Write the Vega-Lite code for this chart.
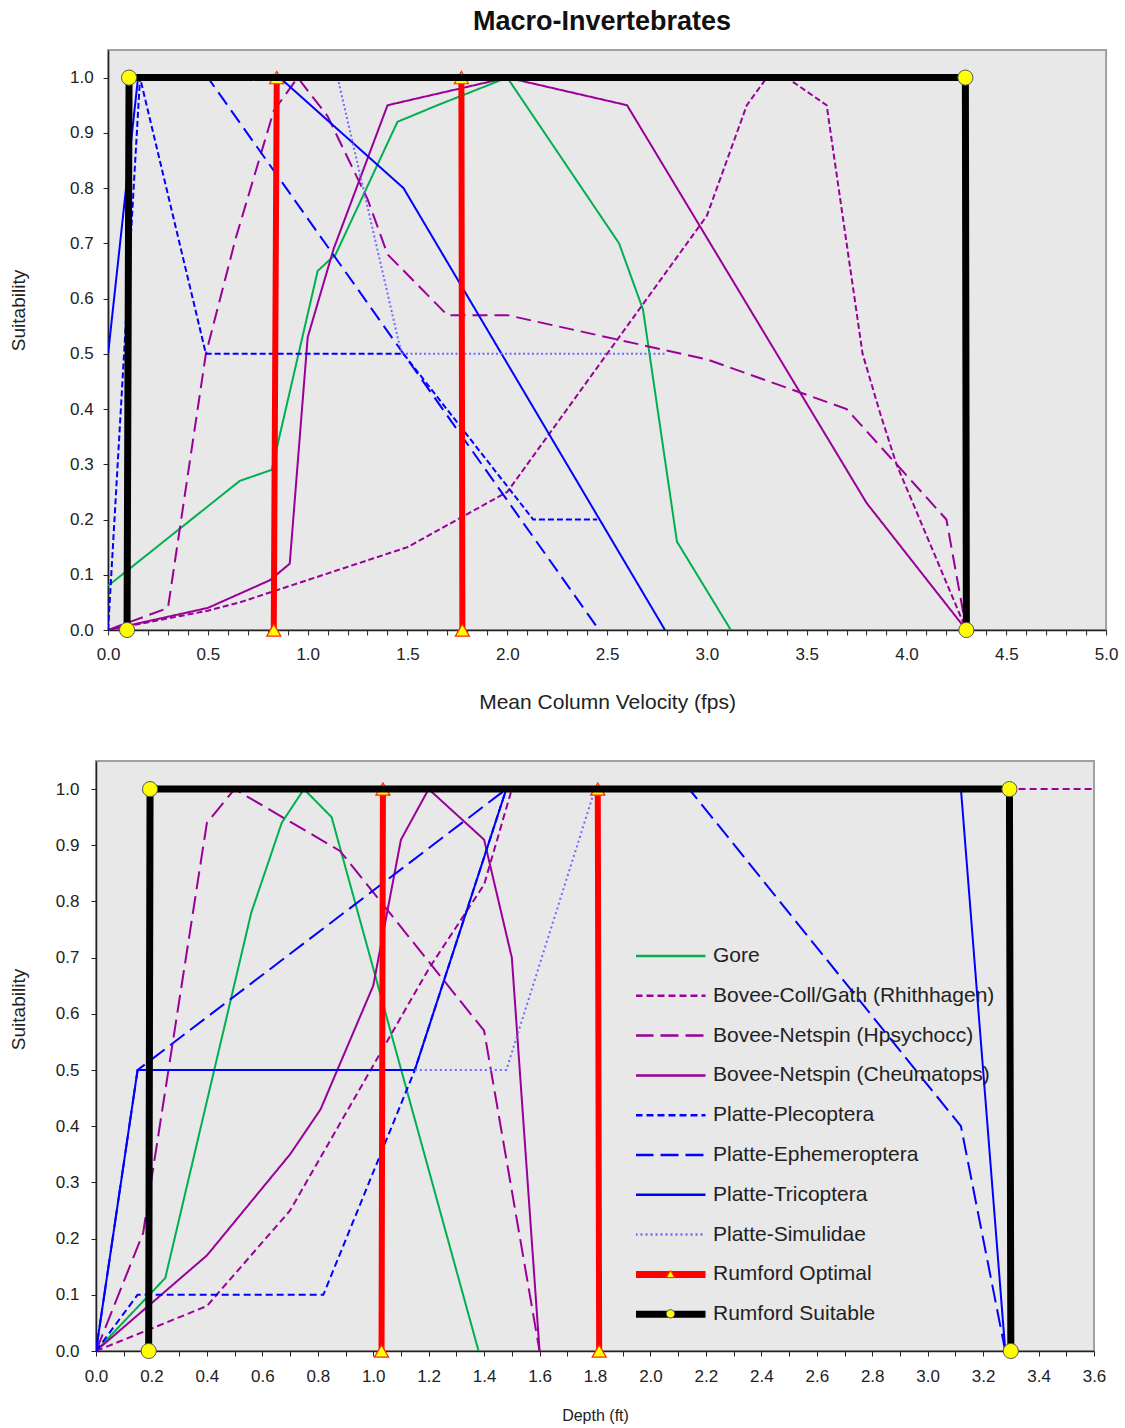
{
  "$schema": "https://vega.github.io/schema/vega-lite/v6.json",
  "padding": {"top": 7, "left": 8, "right": 5, "bottom": 5},
  "background": "#FFFFFF",
  "columns": 1,
  "center": true,
  "spacing": 47,
  "resolve": {
    "scale": {"color": "independent", "strokeDash": "independent", "shape": "independent", "stroke": "independent"},
    "legend": {"color": "independent", "strokeDash": "independent", "shape": "independent", "stroke": "independent"}
  },
  "concat": [
    {
      "width": 998,
      "height": 580,
      "title": {"text": "Macro-Invertebrates", "fontSize": 27, "fontWeight": "bold", "font": "Liberation Sans", "offset": -13, "baseline": "bottom", "dx": -5, "color": "#111111"},
      "data": {"values": [
        {"series": "Gore", "x": 0, "y": 0.08}, {"series": "Gore", "x": 0.66, "y": 0.27}, {"series": "Gore", "x": 0.82, "y": 0.29}, {"series": "Gore", "x": 1.05, "y": 0.65}, {"series": "Gore", "x": 1.14, "y": 0.68}, {"series": "Gore", "x": 1.45, "y": 0.92}, {"series": "Gore", "x": 1.65, "y": 0.95}, {"series": "Gore", "x": 2.0, "y": 1.0}, {"series": "Gore", "x": 2.56, "y": 0.7}, {"series": "Gore", "x": 2.68, "y": 0.58}, {"series": "Gore", "x": 2.85, "y": 0.16}, {"series": "Gore", "x": 3.12, "y": 0},
        {"series": "Bovee-Coll/Gath (Rhithhagen)", "x": 0, "y": 0}, {"series": "Bovee-Coll/Gath (Rhithhagen)", "x": 0.5, "y": 0.035}, {"series": "Bovee-Coll/Gath (Rhithhagen)", "x": 0.66, "y": 0.05}, {"series": "Bovee-Coll/Gath (Rhithhagen)", "x": 1.5, "y": 0.15}, {"series": "Bovee-Coll/Gath (Rhithhagen)", "x": 2.0, "y": 0.25}, {"series": "Bovee-Coll/Gath (Rhithhagen)", "x": 3.0, "y": 0.75}, {"series": "Bovee-Coll/Gath (Rhithhagen)", "x": 3.2, "y": 0.95}, {"series": "Bovee-Coll/Gath (Rhithhagen)", "x": 3.3, "y": 1.0}, {"series": "Bovee-Coll/Gath (Rhithhagen)", "x": 3.4, "y": 1.0}, {"series": "Bovee-Coll/Gath (Rhithhagen)", "x": 3.6, "y": 0.95}, {"series": "Bovee-Coll/Gath (Rhithhagen)", "x": 3.78, "y": 0.5}, {"series": "Bovee-Coll/Gath (Rhithhagen)", "x": 3.87, "y": 0.39}, {"series": "Bovee-Coll/Gath (Rhithhagen)", "x": 3.95, "y": 0.3}, {"series": "Bovee-Coll/Gath (Rhithhagen)", "x": 4.3, "y": 0},
        {"series": "Bovee-Netspin (Hpsychocc)", "x": 0, "y": 0}, {"series": "Bovee-Netspin (Hpsychocc)", "x": 0.3, "y": 0.04}, {"series": "Bovee-Netspin (Hpsychocc)", "x": 0.49, "y": 0.5}, {"series": "Bovee-Netspin (Hpsychocc)", "x": 0.64, "y": 0.71}, {"series": "Bovee-Netspin (Hpsychocc)", "x": 0.83, "y": 0.94}, {"series": "Bovee-Netspin (Hpsychocc)", "x": 0.95, "y": 1.0}, {"series": "Bovee-Netspin (Hpsychocc)", "x": 1.1, "y": 0.93}, {"series": "Bovee-Netspin (Hpsychocc)", "x": 1.3, "y": 0.78}, {"series": "Bovee-Netspin (Hpsychocc)", "x": 1.4, "y": 0.68}, {"series": "Bovee-Netspin (Hpsychocc)", "x": 1.7, "y": 0.57}, {"series": "Bovee-Netspin (Hpsychocc)", "x": 2.0, "y": 0.57}, {"series": "Bovee-Netspin (Hpsychocc)", "x": 3.0, "y": 0.49}, {"series": "Bovee-Netspin (Hpsychocc)", "x": 3.7, "y": 0.4}, {"series": "Bovee-Netspin (Hpsychocc)", "x": 4.2, "y": 0.2}, {"series": "Bovee-Netspin (Hpsychocc)", "x": 4.3, "y": 0},
        {"series": "Bovee-Netspin (Cheumatops)", "x": 0, "y": 0}, {"series": "Bovee-Netspin (Cheumatops)", "x": 0.5, "y": 0.04}, {"series": "Bovee-Netspin (Cheumatops)", "x": 0.81, "y": 0.09}, {"series": "Bovee-Netspin (Cheumatops)", "x": 0.91, "y": 0.12}, {"series": "Bovee-Netspin (Cheumatops)", "x": 1.0, "y": 0.53}, {"series": "Bovee-Netspin (Cheumatops)", "x": 1.13, "y": 0.69}, {"series": "Bovee-Netspin (Cheumatops)", "x": 1.4, "y": 0.95}, {"series": "Bovee-Netspin (Cheumatops)", "x": 2.0, "y": 1.0}, {"series": "Bovee-Netspin (Cheumatops)", "x": 2.6, "y": 0.95}, {"series": "Bovee-Netspin (Cheumatops)", "x": 3.8, "y": 0.23}, {"series": "Bovee-Netspin (Cheumatops)", "x": 4.3, "y": 0},
        {"series": "Platte-Plecoptera", "x": 0, "y": 0}, {"series": "Platte-Plecoptera", "x": 0.16, "y": 1.0}, {"series": "Platte-Plecoptera", "x": 0.49, "y": 0.5}, {"series": "Platte-Plecoptera", "x": 1.48, "y": 0.5}, {"series": "Platte-Plecoptera", "x": 2.13, "y": 0.2}, {"series": "Platte-Plecoptera", "x": 2.45, "y": 0.2},
        {"series": "Platte-Ephemeroptera", "x": 0.15, "y": 1.0}, {"series": "Platte-Ephemeroptera", "x": 0.5, "y": 1.0}, {"series": "Platte-Ephemeroptera", "x": 2.46, "y": 0},
        {"series": "Platte-Tricoptera", "x": 0, "y": 0.5}, {"series": "Platte-Tricoptera", "x": 0.15, "y": 1.0}, {"series": "Platte-Tricoptera", "x": 0.86, "y": 1.0}, {"series": "Platte-Tricoptera", "x": 1.48, "y": 0.8}, {"series": "Platte-Tricoptera", "x": 2.79, "y": 0},
        {"series": "Platte-Simulidae", "x": 1.15, "y": 1.0}, {"series": "Platte-Simulidae", "x": 1.47, "y": 0.5}, {"series": "Platte-Simulidae", "x": 2.8, "y": 0.5},
        {"series": "Rumford Optimal", "x": 0.83, "y": 0}, {"series": "Rumford Optimal", "x": 0.845, "y": 1}, {"series": "Rumford Optimal", "x": 1.77, "y": 1}, {"series": "Rumford Optimal", "x": 1.775, "y": 0},
        {"series": "Rumford Suitable", "x": 0.095, "y": 0}, {"series": "Rumford Suitable", "x": 0.105, "y": 1}, {"series": "Rumford Suitable", "x": 4.295, "y": 1}, {"series": "Rumford Suitable", "x": 4.3, "y": 0}
      ]},
      "encoding": {
        "x": {"field": "x", "type": "quantitative", "scale": {"domain": [0, 5], "nice": false, "zero": false},
          "axis": {"title": "Mean Column Velocity (fps)", "titleFontSize": 21, "values": [0,0.1,0.2,0.3,0.4,0.5,0.6,0.7,0.8,0.9,1,1.1,1.2,1.3,1.4,1.5,1.6,1.7,1.8,1.9,2,2.1,2.2,2.3,2.4,2.5,2.6,2.7,2.8,2.9,3,3.1,3.2,3.3,3.4,3.5,3.6,3.7,3.8,3.9,4,4.1,4.2,4.3,4.4,4.5,4.6,4.7,4.8,4.9,5],
            "labelExpr": "abs(datum.value*2 - round(datum.value*2)) < 0.001 ? format(datum.value, '.1f') : ''",
            "labelPadding": 11, "titlePadding": 29, "labelOverlap": false, "labelFlush": false}},
        "y": {"field": "y", "type": "quantitative", "scale": {"domain": [0, 1.05], "nice": false, "zero": false},
          "axis": {"title": "Suitability", "values": [0,0.1,0.2,0.3,0.4,0.5,0.6,0.7,0.8,0.9,1], "format": ".1f", "labelPadding": 10, "titleX": -90, "titleY": 260, "titleBaseline": "middle", "labelOverlap": false, "labelFlush": false}}
      },
      "layer": [
        {
          "transform": [{"filter": {"field": "series", "oneOf": ["Gore","Bovee-Coll/Gath (Rhithhagen)","Bovee-Netspin (Hpsychocc)","Bovee-Netspin (Cheumatops)","Platte-Plecoptera","Platte-Ephemeroptera","Platte-Tricoptera","Platte-Simulidae"]}}],
          "mark": {"type": "line", "clip": true, "strokeWidth": 2},
          "encoding": {
            "color": {"field": "series", "type": "nominal", "scale": {"domain": ["Gore","Bovee-Coll/Gath (Rhithhagen)","Bovee-Netspin (Hpsychocc)","Bovee-Netspin (Cheumatops)","Platte-Plecoptera","Platte-Ephemeroptera","Platte-Tricoptera","Platte-Simulidae","Rumford Optimal","Rumford Suitable"], "range": ["#00B050","#990099","#990099","#990099","#0000FF","#0000FF","#0000FF","#6B6BFF","#FF0000","#000000"]}, "legend": null},
            "strokeDash": {"field": "series", "type": "nominal", "scale": {"domain": ["Gore","Bovee-Coll/Gath (Rhithhagen)","Bovee-Netspin (Hpsychocc)","Bovee-Netspin (Cheumatops)","Platte-Plecoptera","Platte-Ephemeroptera","Platte-Tricoptera","Platte-Simulidae","Rumford Optimal","Rumford Suitable"], "range": [[1,0],[6,3],[15,7],[1,0],[6,3],[15,7],[1,0],[2,2.5],[1,0],[1,0]]}, "legend": null}
          }
        },
        {
          "transform": [{"filter": "datum.series == 'Rumford Optimal'"}],
          "mark": {"type": "line", "clip": true, "strokeWidth": 6},
          "encoding": {
            "color": {"field": "series", "type": "nominal", "legend": null},
            "strokeDash": {"field": "series", "type": "nominal", "legend": null}
          }
        },
        {
          "transform": [{"filter": "datum.series == 'Rumford Optimal'"}],
          "mark": {"type": "point", "filled": true, "fill": "#FFFF00", "size": 200, "strokeWidth": 1.2, "opacity": 1},
          "encoding": {
            "shape": {"field": "series", "type": "nominal", "scale": {"domain": ["Rumford Optimal","Rumford Suitable"], "range": ["triangle-up","circle"]}, "legend": null},
            "stroke": {"field": "series", "type": "nominal", "scale": {"domain": ["Rumford Optimal","Rumford Suitable"], "range": ["#FF2A00","#555555"]}, "legend": null}
          }
        },
        {
          "transform": [{"filter": "datum.series == 'Rumford Suitable'"}],
          "mark": {"type": "line", "clip": true, "strokeWidth": 7},
          "encoding": {
            "color": {"field": "series", "type": "nominal", "legend": null},
            "strokeDash": {"field": "series", "type": "nominal", "legend": null}
          }
        },
        {
          "transform": [{"filter": "datum.series == 'Rumford Suitable'"}],
          "mark": {"type": "point", "filled": true, "fill": "#FFFF00", "size": 230, "strokeWidth": 1, "opacity": 1},
          "encoding": {
            "shape": {"field": "series", "type": "nominal", "legend": null},
            "stroke": {"field": "series", "type": "nominal", "legend": null}
          }
        }
      ]
    },
    {
      "spacing": 0,
      "resolve": {
        "scale": {"color": "independent", "strokeDash": "independent", "shape": "independent", "stroke": "independent"},
        "legend": {"color": "independent", "strokeDash": "independent", "shape": "independent", "stroke": "independent"}
      },
      "hconcat": [
        {
          "width": 998,
          "height": 590,
          "data": {"values": [
            {"series": "Gore", "x": 0, "y": 0}, {"series": "Gore", "x": 0.25, "y": 0.13}, {"series": "Gore", "x": 0.56, "y": 0.78}, {"series": "Gore", "x": 0.67, "y": 0.94}, {"series": "Gore", "x": 0.75, "y": 1.0}, {"series": "Gore", "x": 0.85, "y": 0.95}, {"series": "Gore", "x": 1.38, "y": 0},
            {"series": "Bovee-Coll/Gath (Rhithhagen)", "x": 0, "y": 0}, {"series": "Bovee-Coll/Gath (Rhithhagen)", "x": 0.4, "y": 0.08}, {"series": "Bovee-Coll/Gath (Rhithhagen)", "x": 0.7, "y": 0.25}, {"series": "Bovee-Coll/Gath (Rhithhagen)", "x": 1.2, "y": 0.68}, {"series": "Bovee-Coll/Gath (Rhithhagen)", "x": 1.4, "y": 0.83}, {"series": "Bovee-Coll/Gath (Rhithhagen)", "x": 1.5, "y": 1.0}, {"series": "Bovee-Coll/Gath (Rhithhagen)", "x": 3.6, "y": 1.0},
            {"series": "Bovee-Netspin (Hpsychocc)", "x": 0, "y": 0}, {"series": "Bovee-Netspin (Hpsychocc)", "x": 0.17, "y": 0.21}, {"series": "Bovee-Netspin (Hpsychocc)", "x": 0.4, "y": 0.94}, {"series": "Bovee-Netspin (Hpsychocc)", "x": 0.5, "y": 1.0}, {"series": "Bovee-Netspin (Hpsychocc)", "x": 0.88, "y": 0.89}, {"series": "Bovee-Netspin (Hpsychocc)", "x": 1.4, "y": 0.57}, {"series": "Bovee-Netspin (Hpsychocc)", "x": 1.6, "y": 0},
            {"series": "Bovee-Netspin (Cheumatops)", "x": 0, "y": 0}, {"series": "Bovee-Netspin (Cheumatops)", "x": 0.4, "y": 0.17}, {"series": "Bovee-Netspin (Cheumatops)", "x": 0.7, "y": 0.35}, {"series": "Bovee-Netspin (Cheumatops)", "x": 0.81, "y": 0.43}, {"series": "Bovee-Netspin (Cheumatops)", "x": 1.0, "y": 0.65}, {"series": "Bovee-Netspin (Cheumatops)", "x": 1.1, "y": 0.91}, {"series": "Bovee-Netspin (Cheumatops)", "x": 1.2, "y": 1.0}, {"series": "Bovee-Netspin (Cheumatops)", "x": 1.4, "y": 0.91}, {"series": "Bovee-Netspin (Cheumatops)", "x": 1.5, "y": 0.7}, {"series": "Bovee-Netspin (Cheumatops)", "x": 1.6, "y": 0},
            {"series": "Platte-Plecoptera", "x": 0, "y": 0}, {"series": "Platte-Plecoptera", "x": 0.15, "y": 0.1}, {"series": "Platte-Plecoptera", "x": 0.82, "y": 0.1}, {"series": "Platte-Plecoptera", "x": 1.15, "y": 0.5}, {"series": "Platte-Plecoptera", "x": 1.48, "y": 1.0},
            {"series": "Platte-Ephemeroptera", "x": 0, "y": 0}, {"series": "Platte-Ephemeroptera", "x": 0.15, "y": 0.5}, {"series": "Platte-Ephemeroptera", "x": 1.48, "y": 1.0}, {"series": "Platte-Ephemeroptera", "x": 2.14, "y": 1.0}, {"series": "Platte-Ephemeroptera", "x": 3.12, "y": 0.4}, {"series": "Platte-Ephemeroptera", "x": 3.28, "y": 0},
            {"series": "Platte-Tricoptera", "x": 0, "y": 0}, {"series": "Platte-Tricoptera", "x": 0.15, "y": 0.5}, {"series": "Platte-Tricoptera", "x": 1.15, "y": 0.5}, {"series": "Platte-Tricoptera", "x": 1.48, "y": 1.0}, {"series": "Platte-Tricoptera", "x": 3.12, "y": 1.0}, {"series": "Platte-Tricoptera", "x": 3.28, "y": 0},
            {"series": "Platte-Simulidae", "x": 1.15, "y": 0.5}, {"series": "Platte-Simulidae", "x": 1.48, "y": 0.5}, {"series": "Platte-Simulidae", "x": 1.8, "y": 1.0},
            {"series": "Rumford Optimal", "x": 1.03, "y": 0}, {"series": "Rumford Optimal", "x": 1.035, "y": 1}, {"series": "Rumford Optimal", "x": 1.81, "y": 1}, {"series": "Rumford Optimal", "x": 1.815, "y": 0},
            {"series": "Rumford Suitable", "x": 0.19, "y": 0}, {"series": "Rumford Suitable", "x": 0.195, "y": 1}, {"series": "Rumford Suitable", "x": 3.295, "y": 1}, {"series": "Rumford Suitable", "x": 3.3, "y": 0}
          ]},
          "encoding": {
            "x": {"field": "x", "type": "quantitative", "scale": {"domain": [0, 3.6], "nice": false, "zero": false},
              "axis": {"title": "Depth (ft)", "titleFontSize": 16, "values": [0,0.1,0.2,0.3,0.4,0.5,0.6,0.7,0.8,0.9,1,1.1,1.2,1.3,1.4,1.5,1.6,1.7,1.8,1.9,2,2.1,2.2,2.3,2.4,2.5,2.6,2.7,2.8,2.9,3,3.1,3.2,3.3,3.4,3.5,3.6],
                "labelExpr": "abs(datum.value*5 - round(datum.value*5)) < 0.001 ? format(datum.value, '.1f') : ''",
                "labelPadding": 12, "titlePadding": 23, "labelOverlap": false, "labelFlush": false}},
            "y": {"field": "y", "type": "quantitative", "scale": {"domain": [0, 1.05], "nice": false, "zero": false},
              "axis": {"title": "Suitability", "values": [0,0.1,0.2,0.3,0.4,0.5,0.6,0.7,0.8,0.9,1], "format": ".1f", "labelPadding": 12, "titleX": -78, "titleY": 248, "titleBaseline": "middle", "labelOverlap": false, "labelFlush": false}}
          },
          "layer": [
            {
              "transform": [{"filter": {"field": "series", "oneOf": ["Gore","Bovee-Coll/Gath (Rhithhagen)","Bovee-Netspin (Hpsychocc)","Bovee-Netspin (Cheumatops)","Platte-Plecoptera","Platte-Ephemeroptera","Platte-Tricoptera","Platte-Simulidae"]}}],
              "mark": {"type": "line", "clip": true, "strokeWidth": 2},
              "encoding": {
                "color": {"field": "series", "type": "nominal", "scale": {"domain": ["Gore","Bovee-Coll/Gath (Rhithhagen)","Bovee-Netspin (Hpsychocc)","Bovee-Netspin (Cheumatops)","Platte-Plecoptera","Platte-Ephemeroptera","Platte-Tricoptera","Platte-Simulidae","Rumford Optimal","Rumford Suitable"], "range": ["#00B050","#990099","#990099","#990099","#0000FF","#0000FF","#0000FF","#6B6BFF","#FF0000","#000000"]},
                  "legend": {"title": null, "orient": "none", "legendX": 540, "legendY": 184, "symbolType": "stroke", "symbolSize": 4900, "symbolOffset": 24, "labelOffset": 32, "encode": {"symbols": {"update": {"strokeWidth": {"signal": "datum.value == 'Rumford Optimal' || datum.value == 'Rumford Suitable' ? 7 : 2.5"}}}}}},
                "strokeDash": {"field": "series", "type": "nominal", "scale": {"domain": ["Gore","Bovee-Coll/Gath (Rhithhagen)","Bovee-Netspin (Hpsychocc)","Bovee-Netspin (Cheumatops)","Platte-Plecoptera","Platte-Ephemeroptera","Platte-Tricoptera","Platte-Simulidae","Rumford Optimal","Rumford Suitable"], "range": [[1,0],[7,4],[18,7],[1,0],[7,4],[18,7],[1,0],[2,3],[1,0],[1,0]]},
                  "legend": {"title": null, "orient": "none", "legendX": 540, "legendY": 184, "symbolType": "stroke", "symbolSize": 4900, "symbolOffset": 24, "labelOffset": 32, "encode": {"symbols": {"update": {"strokeWidth": {"signal": "datum.value == 'Rumford Optimal' || datum.value == 'Rumford Suitable' ? 7 : 2.5"}}}}}}
              }
            },
            {
              "transform": [{"filter": "datum.series == 'Rumford Optimal'"}],
              "mark": {"type": "line", "clip": true, "strokeWidth": 6},
              "encoding": {
                "color": {"field": "series", "type": "nominal", "legend": {"title": null, "orient": "none", "legendX": 540, "legendY": 184, "symbolType": "stroke", "symbolSize": 4900, "symbolOffset": 24, "labelOffset": 32, "encode": {"symbols": {"update": {"strokeWidth": {"signal": "datum.value == 'Rumford Optimal' || datum.value == 'Rumford Suitable' ? 7 : 2.5"}}}}}},
                "strokeDash": {"field": "series", "type": "nominal", "legend": {"title": null, "orient": "none", "legendX": 540, "legendY": 184, "symbolType": "stroke", "symbolSize": 4900, "symbolOffset": 24, "labelOffset": 32, "encode": {"symbols": {"update": {"strokeWidth": {"signal": "datum.value == 'Rumford Optimal' || datum.value == 'Rumford Suitable' ? 7 : 2.5"}}}}}}
              }
            },
            {
              "transform": [{"filter": "datum.series == 'Rumford Optimal'"}],
              "mark": {"type": "point", "filled": true, "fill": "#FFFF00", "size": 200, "strokeWidth": 1.2, "opacity": 1},
              "encoding": {
                "shape": {"field": "series", "type": "nominal", "scale": {"domain": ["Rumford Optimal","Rumford Suitable"], "range": ["triangle-up","circle"]},
                  "legend": {"title": null, "orient": "none", "legendX": 564, "legendY": 502, "symbolSize": 70, "labelExpr": "''", "symbolFillColor": "#FFFF00", "symbolStrokeWidth": 1}},
                "stroke": {"field": "series", "type": "nominal", "scale": {"domain": ["Rumford Optimal","Rumford Suitable"], "range": ["#FF2A00","#555555"]},
                  "legend": {"title": null, "orient": "none", "legendX": 564, "legendY": 502, "symbolSize": 70, "labelExpr": "''", "symbolFillColor": "#FFFF00", "symbolStrokeWidth": 1}}
              }
            },
            {
              "transform": [{"filter": "datum.series == 'Rumford Suitable'"}],
              "mark": {"type": "line", "clip": true, "strokeWidth": 7},
              "encoding": {
                "color": {"field": "series", "type": "nominal", "legend": {"title": null, "orient": "none", "legendX": 540, "legendY": 184, "symbolType": "stroke", "symbolSize": 4900, "symbolOffset": 24, "labelOffset": 32, "encode": {"symbols": {"update": {"strokeWidth": {"signal": "datum.value == 'Rumford Optimal' || datum.value == 'Rumford Suitable' ? 7 : 2.5"}}}}}},
                "strokeDash": {"field": "series", "type": "nominal", "legend": {"title": null, "orient": "none", "legendX": 540, "legendY": 184, "symbolType": "stroke", "symbolSize": 4900, "symbolOffset": 24, "labelOffset": 32, "encode": {"symbols": {"update": {"strokeWidth": {"signal": "datum.value == 'Rumford Optimal' || datum.value == 'Rumford Suitable' ? 7 : 2.5"}}}}}}
              }
            },
            {
              "transform": [{"filter": "datum.series == 'Rumford Suitable'"}],
              "mark": {"type": "point", "filled": true, "fill": "#FFFF00", "size": 230, "strokeWidth": 1, "opacity": 1},
              "encoding": {
                "shape": {"field": "series", "type": "nominal", "legend": {"title": null, "orient": "none", "legendX": 564, "legendY": 502, "symbolSize": 70, "labelExpr": "''", "symbolFillColor": "#FFFF00", "symbolStrokeWidth": 1}},
                "stroke": {"field": "series", "type": "nominal", "legend": {"title": null, "orient": "none", "legendX": 564, "legendY": 502, "symbolSize": 70, "labelExpr": "''", "symbolFillColor": "#FFFF00", "symbolStrokeWidth": 1}}
              }
            }
          ]
        },
        {
          "width": 24,
          "height": 10,
          "view": {"fill": null, "stroke": null},
          "data": {"values": []},
          "mark": "point"
        }
      ]
    }
  ],
  "config": {
    "view": {"fill": "#E8E8E8", "stroke": "#A0A0A0", "strokeWidth": 2},
    "axis": {"grid": false, "labelFont": "Liberation Sans", "titleFont": "Liberation Sans", "labelFontSize": 17, "titleFontSize": 19, "labelColor": "#222222", "titleColor": "#222222", "titleFontWeight": "normal", "domainColor": "#222222", "domainWidth": 1.5, "tickColor": "#222222", "tickSize": 5, "tickWidth": 1},
    "legend": {"clipHeight": 22, "rowPadding": 17.8, "labelFontSize": 21, "labelFont": "Liberation Sans", "labelColor": "#222222", "labelOffset": 5, "labelLimit": 400, "padding": 0}
  }
}
